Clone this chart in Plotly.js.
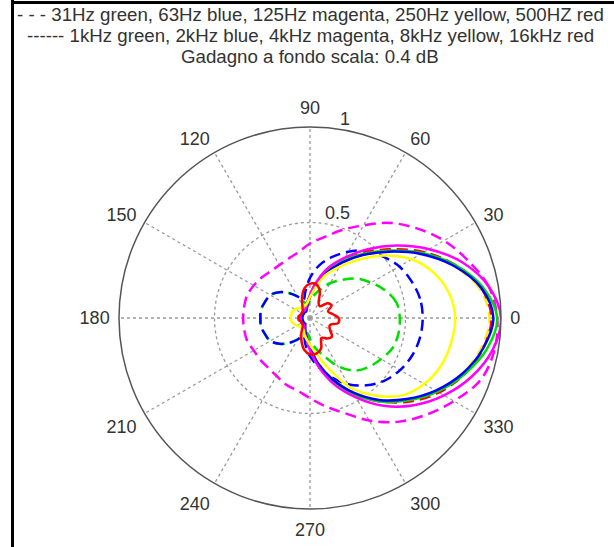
<!DOCTYPE html>
<html>
<head>
<meta charset="utf-8">
<script src="https://cdn.plot.ly/plotly-3.0.1.min.js"></script>
<style>
html,body{margin:0;padding:0;background:#fff;}
#chart{width:614px;height:547px;}
</style>
</head>
<body>
<div id="chart"></div>
<script>
// ---- data ----
const theta = [0,10,20,30,40,50,60,70,80,90,100,110,120,130,140,150,160,170,180,190,200,210,220,230,240,250,260,270,280,290,300,310,320,330,340,350];

const angleTicks = [0,30,60,90,120,150,180,210,240,270,300,330];
const angleTickText = ['0','30','60','90','120','150','180','210','240','270','300','330'];
const radialTicks = [0.5, 1];
const radialTickText = ['0.5', '1'];
const radialLabelAngle = 81;

const titleLines = [
  '- - - 31Hz green, 63Hz blue, 125Hz magenta, 250Hz yellow, 500HZ red',
  '------ 1kHz green, 2kHz blue, 4kHz magenta, 8kHz yellow, 16kHz red',
  'Gadagno a fondo scala: 0.4 dB'
];

// dashed series
const r31Hz  = [0.47,0.46,0.42,0.37,0.32,0.26,0.21,0.16,0.12,0.09,0.07,0.09,0.13,0.17,0.21,0.24,0.25,0.26,0.26,0.26,0.25,0.24,0.21,0.17,0.13,0.09,0.08,0.11,0.16,0.21,0.29,0.36,0.40,0.43,0.46,0.47];
const r63Hz  = [0.59,0.585,0.565,0.54,0.50,0.46,0.40,0.34,0.28,0.21,0.14,0.10,0.13,0.17,0.21,0.24,0.25,0.26,0.26,0.26,0.25,0.24,0.21,0.17,0.13,0.10,0.14,0.20,0.26,0.33,0.40,0.46,0.51,0.545,0.57,0.585];
const r125Hz = [0.98,0.95,0.88,0.81,0.73,0.65,0.56,0.49,0.43,0.39,0.35,0.33,0.32,0.32,0.33,0.34,0.35,0.35,0.35,0.35,0.35,0.34,0.34,0.34,0.35,0.37,0.385,0.42,0.47,0.53,0.62,0.71,0.79,0.87,0.95,0.98];
const r250Hz = [0.94,0.90,0.80,0.68,0.55,0.44,0.345,0.26,0.18,0.11,0.07,0.05,0.04,0.04,0.04,0.04,0.04,0.04,0.04,0.04,0.04,0.04,0.04,0.04,0.05,0.07,0.10,0.15,0.24,0.34,0.45,0.56,0.67,0.77,0.85,0.91];
const r500Hz = [0.95,0.91,0.81,0.69,0.56,0.45,0.355,0.27,0.19,0.12,0.08,0.06,0.05,0.05,0.05,0.05,0.05,0.05,0.05,0.05,0.05,0.05,0.05,0.05,0.06,0.08,0.11,0.16,0.25,0.35,0.46,0.57,0.68,0.78,0.86,0.92];
// solid series
const r1kHz  = [0.98,0.92,0.81,0.68,0.55,0.44,0.345,0.26,0.18,0.12,0.08,0.06,0.05,0.05,0.05,0.05,0.05,0.05,0.05,0.05,0.05,0.05,0.05,0.05,0.06,0.08,0.11,0.16,0.25,0.35,0.46,0.57,0.67,0.77,0.86,0.94];
const r2kHz  = [0.96,0.91,0.80,0.67,0.54,0.43,0.335,0.25,0.17,0.11,0.07,0.05,0.04,0.04,0.04,0.04,0.04,0.04,0.04,0.04,0.04,0.04,0.04,0.04,0.05,0.07,0.10,0.15,0.24,0.34,0.45,0.56,0.66,0.76,0.85,0.92];
const r4kHz  = [1.00,0.95,0.85,0.72,0.59,0.47,0.365,0.28,0.19,0.12,0.08,0.06,0.05,0.05,0.05,0.05,0.05,0.05,0.05,0.05,0.05,0.05,0.05,0.05,0.06,0.08,0.11,0.17,0.26,0.37,0.48,0.60,0.71,0.81,0.90,0.97];
const r8kHz  = [0.76,0.74,0.69,0.615,0.51,0.40,0.31,0.24,0.16,0.11,0.08,0.07,0.07,0.07,0.08,0.09,0.10,0.10,0.10,0.10,0.09,0.08,0.07,0.07,0.07,0.09,0.11,0.14,0.19,0.28,0.42,0.53,0.63,0.69,0.73,0.75];
const r16kHz = [0.15,0.12,0.10,0.13,0.12,0.08,0.09,0.15,0.18,0.18,0.16,0.12,0.08,0.06,0.05,0.05,0.05,0.06,0.06,0.06,0.05,0.05,0.05,0.06,0.09,0.13,0.17,0.19,0.19,0.17,0.12,0.14,0.15,0.12,0.11,0.15];

const seriesR      = [r31Hz, r63Hz, r125Hz, r250Hz, r500Hz, r1kHz, r2kHz, r4kHz, r8kHz, r16kHz];
const seriesNames  = ['31Hz','63Hz','125Hz','250Hz','500Hz','1kHz','2kHz','4kHz','8kHz','16kHz'];
const seriesColors = ['#00dd00','#0000ff','#ff00ff','#ffee00','#ff0000','#00dd00','#0000ff','#ff00ff','#ffff00','#ff0000'];
const seriesDashed = [true,true,true,true,true,false,false,false,false,false];

const W = 614, H = 547;
const cx = 310, cy = 318, R = 191;
const FONT = 'Liberation Sans, Arial, sans-serif';
const titleY = [14, 36, 57];

// ---- traces ----
const traces = seriesR.map((r, i) => ({
  type: 'scatterpolar',
  mode: 'lines',
  name: seriesNames[i],
  r: r.concat([r[0]]),
  theta: theta.concat([theta[0] + 360]),
  line: {
    color: seriesColors[i],
    width: 2.5,
    dash: seriesDashed[i] ? '11px,6px' : 'solid',
    shape: 'spline',
    smoothing: 1
  },
  hoverinfo: 'skip'
}));

// radial tick labels (MATLAB style, just outside each ring)
traces.push({
  type: 'scatterpolar',
  mode: 'text',
  r: radialTicks,
  theta: radialTicks.map(() => radialLabelAngle),
  text: radialTickText,
  textposition: 'top right',
  textfont: {family: FONT, size: 18, color: '#333333'},
  cliponaxis: false,
  hoverinfo: 'skip'
});

const layout = {
  width: W,
  height: H,
  margin: {l: 0, r: 0, t: 0, b: 0},
  paper_bgcolor: '#ffffff',
  showlegend: false,
  font: {family: FONT, color: '#333333', size: 18},
  annotations: titleLines.map((t, i) => ({
    text: t,
    xref: 'paper', yref: 'paper',
    x: 310 / W, xanchor: 'center',
    y: 1 - titleY[i] / H, yanchor: 'middle',
    showarrow: false,
    font: {family: FONT, size: 18.7, color: '#333333'}
  })),
  polar: {
    domain: {
      x: [(cx - R) / W, (cx + R) / W],
      y: [1 - (cy + R) / H, 1 - (cy - R) / H]
    },
    bgcolor: '#ffffff',
    angularaxis: {
      rotation: 0,
      direction: 'counterclockwise',
      tickmode: 'array',
      tickvals: angleTicks,
      ticktext: angleTickText,
      ticks: 'outside',
      ticklen: 5,
      tickcolor: 'rgba(0,0,0,0)',
      showline: true,
      linecolor: '#555555',
      linewidth: 1.5,
      showgrid: true,
      gridcolor: '#999999',
      griddash: 'dot',
      gridwidth: 1.3,
      tickfont: {family: FONT, size: 18, color: '#333333'}
    },
    radialaxis: {
      range: [0, 1],
      angle: 84,
      tickmode: 'array',
      tickvals: radialTicks,
      ticktext: radialTickText,
      showticklabels: false,
      showline: false,
      ticks: '',
      showgrid: true,
      gridcolor: '#999999',
      griddash: 'dot',
      gridwidth: 1.3
    }
  },
  shapes: [
    {type: 'line', xref: 'paper', yref: 'paper', x0: 12.5 / W, x1: 12.5 / W, y0: 0, y1: 1, line: {color: '#000', width: 3}},
    {type: 'line', xref: 'paper', yref: 'paper', x0: 11 / W, x1: 1, y0: 1 - 2.5 / H, y1: 1 - 2.5 / H, line: {color: '#000', width: 3}}
  ]
};

Plotly.newPlot('chart', traces, layout, {displayModeBar: false, staticPlot: true});
</script>
</body>
</html>
